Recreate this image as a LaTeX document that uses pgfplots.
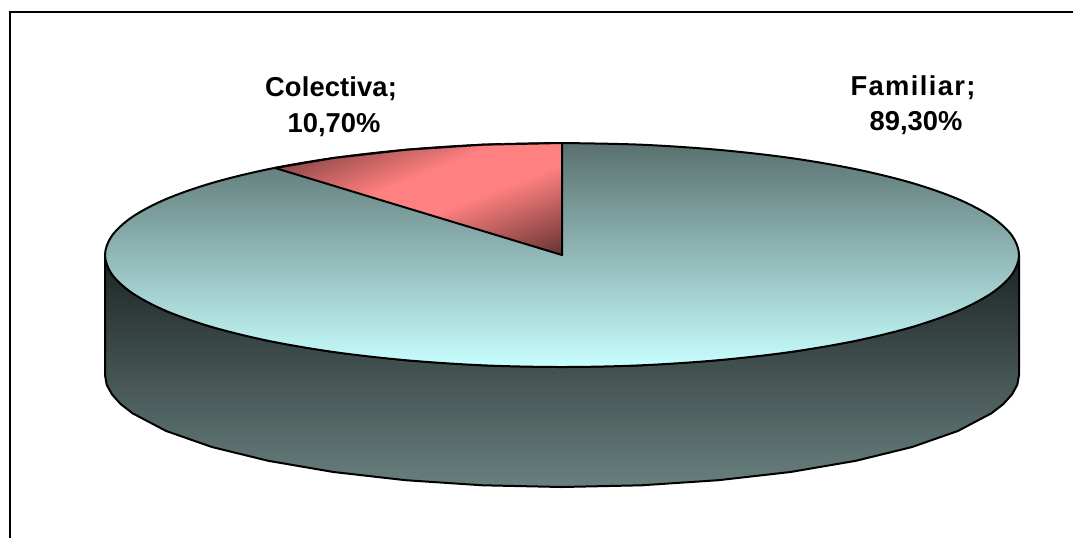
\documentclass[border=0pt]{standalone}
\usepackage{pgfplots}
\pgfplotsset{compat=1.18}
\usepgfplotslibrary{patchplots}
\usepackage{fontspec}
\setmainfont{Liberation Sans}
\definecolor{topA}{RGB}{89,113,111}
\definecolor{topB}{RGB}{200,255,255}
\definecolor{sideA}{RGB}{28,36,36}
\definecolor{sideB}{RGB}{104,128,126}
\begin{document}
\begin{tikzpicture}
\begin{axis}[
  anchor=origin, at={(0,0)},
  scale only axis, width=804.75pt, height=403.5pt,
  xmin=0, xmax=1073, ymin=0, ymax=538, y dir=reverse,
  hide axis, clip=true,
  every axis plot/.append style={no markers}
]
% background
\addplot[draw=none, fill=white] coordinates {(0,0) (1073,0) (1073,538) (0,538) (0,0)};
% frame
\addplot[black, line width=1.6pt] coordinates {(10,538) (10,12) (1073,12)};
% side of the pie
\addplot[draw=black, line width=1.5pt, line join=round, top color=sideA, bottom color=sideB] coordinates {
 (105,255) (105,375) (106.7,384.8) (112,394.4) (120.6,404) (132.6,413.3) (166.2,431) (211.9,447) (268.2,460.8) (333.5,472) (405.7,480.2) (482.7,485.3) (562,487)
 (641.3,485.3) (718.3,480.2) (790.5,472) (855.8,460.8) (912.1,447) (957.8,431) (991.4,413.3) (1003.4,404) (1012,394.4) (1017.3,384.8) (1019,375) (1019,255)
 (1017.3,264.8) (1012,274.4) (1003.4,284) (991.4,293.3) (957.8,311) (912.1,327) (855.8,340.8) (790.5,352) (718.3,360.2) (641.3,365.3) (562,367)
 (482.7,365.3) (405.7,360.2) (333.5,352) (268.2,340.8) (211.9,327) (166.2,311) (132.6,293.3) (120.6,284) (112,274.4) (106.7,264.8) (105,255)};
% top of the pie
\addplot[smooth, tension=0.55, draw=black, line width=1.5pt, top color=topA, bottom color=topB] coordinates {
 (562,143) (641.3,144.7) (718.3,149.8) (790.5,158) (855.8,169.2) (912.1,183) (957.8,199) (991.4,216.7) (1012,235.6) (1019,255)
 (1012,274.4) (991.4,293.3) (957.8,311) (912.1,327) (855.8,340.8) (790.5,352) (718.3,360.2) (641.3,365.3) (562,367)
 (482.7,365.3) (405.7,360.2) (333.5,352) (268.2,340.8) (211.9,327) (166.2,311) (132.6,293.3) (112,274.4) (105,255)
 (112,235.6) (132.6,216.7) (166.2,199) (211.9,183) (268.2,169.2) (333.5,158) (405.7,149.8) (482.7,144.7) (562,143)};
% Colectiva slice
\addplot[patch, shader=interp, mesh/color input=explicit] table[meta=c] {
x y c
562 165.4 1,0.5,0.5
432.8 215.8 1,0.5,0.5
562 255 0.4,0.2,0.2
562 143 1,0.5,0.5
502 144 1,0.5,0.5
368.3 196.3 1,0.5,0.5
562 143 1,0.5,0.5
368.3 196.3 1,0.5,0.5
432.8 215.8 1,0.5,0.5
562 143 1,0.5,0.5
432.8 215.8 1,0.5,0.5
562 165.4 1,0.5,0.5
368.3 196.3 1,0.5,0.5
275 168 0.567,0.284,0.284
333.5 158 0.654,0.327,0.327
368.3 196.3 1,0.5,0.5
333.5 158 0.654,0.327,0.327
405.7 149.8 0.787,0.394,0.394
368.3 196.3 1,0.5,0.5
405.7 149.8 0.787,0.394,0.394
482.7 144.7 0.954,0.477,0.477
368.3 196.3 1,0.5,0.5
482.7 144.7 0.954,0.477,0.477
502 144 1,0.5,0.5
};
\addplot[black, line width=1.5pt, line join=round] coordinates {(562,143) (562,255) (275,168) (333.5,158) (405.7,149.8) (482.7,144.7) (562,143)};
\node[font=\bfseries\fontsize{20.5}{24}\selectfont, text=black, inner sep=0pt] at (axis cs:331,89) {\addfontfeature{LetterSpace=0.5}Colectiva;};
\node[font=\bfseries\fontsize{20.5}{24}\selectfont, text=black, inner sep=0pt] at (axis cs:334,125) {10,70\%};
\node[font=\bfseries\fontsize{20.5}{24}\selectfont, text=black, inner sep=0pt] at (axis cs:913,88) {\addfontfeature{LetterSpace=5}Familiar;};
\node[font=\bfseries\fontsize{20.5}{24}\selectfont, text=black, inner sep=0pt] at (axis cs:916,123) {89,30\%};
\end{axis}
\end{tikzpicture}
\end{document}
